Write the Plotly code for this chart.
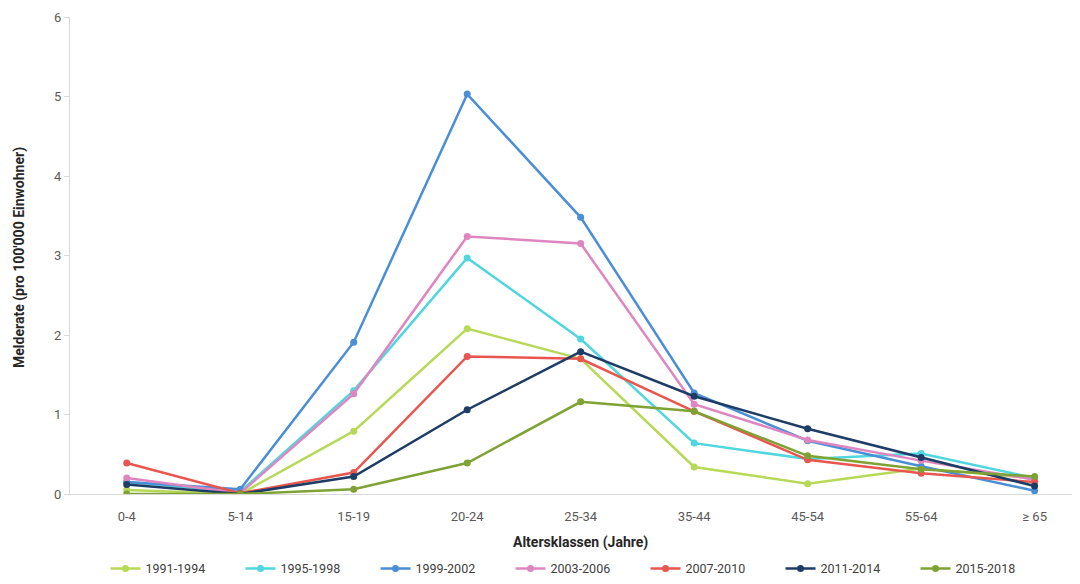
import plotly.graph_objects as go

categories = ["0-4", "5-14", "15-19", "20-24", "25-34", "35-44", "45-54", "55-64", "≥ 65"]

s_1991_1994 = [0.05, 0.00, 0.79, 2.08, 1.70, 0.34, 0.13, 0.32, 0.20]
s_1995_1998 = [0.15, 0.03, 1.30, 2.97, 1.95, 0.64, 0.44, 0.51, 0.20]
s_1999_2002 = [0.15, 0.06, 1.91, 5.03, 3.48, 1.27, 0.67, 0.35, 0.04]
s_2003_2006 = [0.20, 0.01, 1.26, 3.24, 3.15, 1.13, 0.68, 0.42, 0.18]
s_2007_2010 = [0.39, 0.01, 0.27, 1.73, 1.70, 1.04, 0.43, 0.26, 0.15]
s_2011_2014 = [0.12, 0.00, 0.22, 1.06, 1.79, 1.23, 0.82, 0.46, 0.10]
s_2015_2018 = [0.00, 0.00, 0.06, 0.39, 1.16, 1.04, 0.48, 0.31, 0.22]

series = [
    ("1991-1994", s_1991_1994, "#b8d957"),
    ("1995-1998", s_1995_1998, "#4fd6de"),
    ("1999-2002", s_1999_2002, "#4a8fd6"),
    ("2003-2006", s_2003_2006, "#df86c1"),
    ("2007-2010", s_2007_2010, "#e9564f"),
    ("2011-2014", s_2011_2014, "#1d3d66"),
    ("2015-2018", s_2015_2018, "#7ea233"),
]

fig = go.Figure()
for name, vals, col in series:
    fig.add_trace(go.Scatter(
        x=categories, y=vals, name=name, mode="lines+markers",
        line=dict(color=col, width=2.5),
        marker=dict(color=col, size=7),
    ))

font_fam = "Roboto, Arial, sans-serif"
fig.update_layout(
    width=1080, height=584,
    margin=dict(l=62, r=8, t=9, b=92),
    plot_bgcolor="white", paper_bgcolor="white",
    font=dict(family=font_fam, size=13, color="#595959"),
    showlegend=True,
    legend=dict(orientation="h", x=0.503, xanchor="center", y=-0.157, yanchor="middle",
                font=dict(size=12.5, color="#404040"), entrywidth=90, entrywidthmode="pixels",
                itemwidth=30, traceorder="normal"),
    xaxis=dict(
        type="category", range=[-0.5, 8.4], automargin=False,
        showline=True, linecolor="#d9d9d9", linewidth=1,
        showgrid=False, ticks="outside", ticklen=10, tickcolor="rgba(0,0,0,0)",
        tickfont=dict(size=13, color="#595959"),
    ),
    yaxis=dict(
        range=[0, 6], dtick=1, showline=True, linecolor="#d9d9d9", linewidth=1, automargin=False,
        showgrid=False, ticks="outside", ticklen=5, tickcolor="#d9d9d9",
        tickfont=dict(size=13, color="#595959"), zeroline=False,
    ),
    annotations=[
        dict(text="<b>Altersklassen (Jahre)</b>", xref="paper", yref="paper",
             x=510 / 1010, y=-49 / 483, showarrow=False,
             font=dict(size=14, color="#262626"), xanchor="center", yanchor="middle"),
        dict(text="<b>Melderate (pro 100'000 Einwohner)</b>", xref="paper", yref="paper",
             x=-50 / 1010, y=(496 - 257) / 483, showarrow=False, textangle=-90,
             font=dict(size=14, color="#262626"), xanchor="center", yanchor="middle"),
    ],
)

fig.write_html("out.html")
